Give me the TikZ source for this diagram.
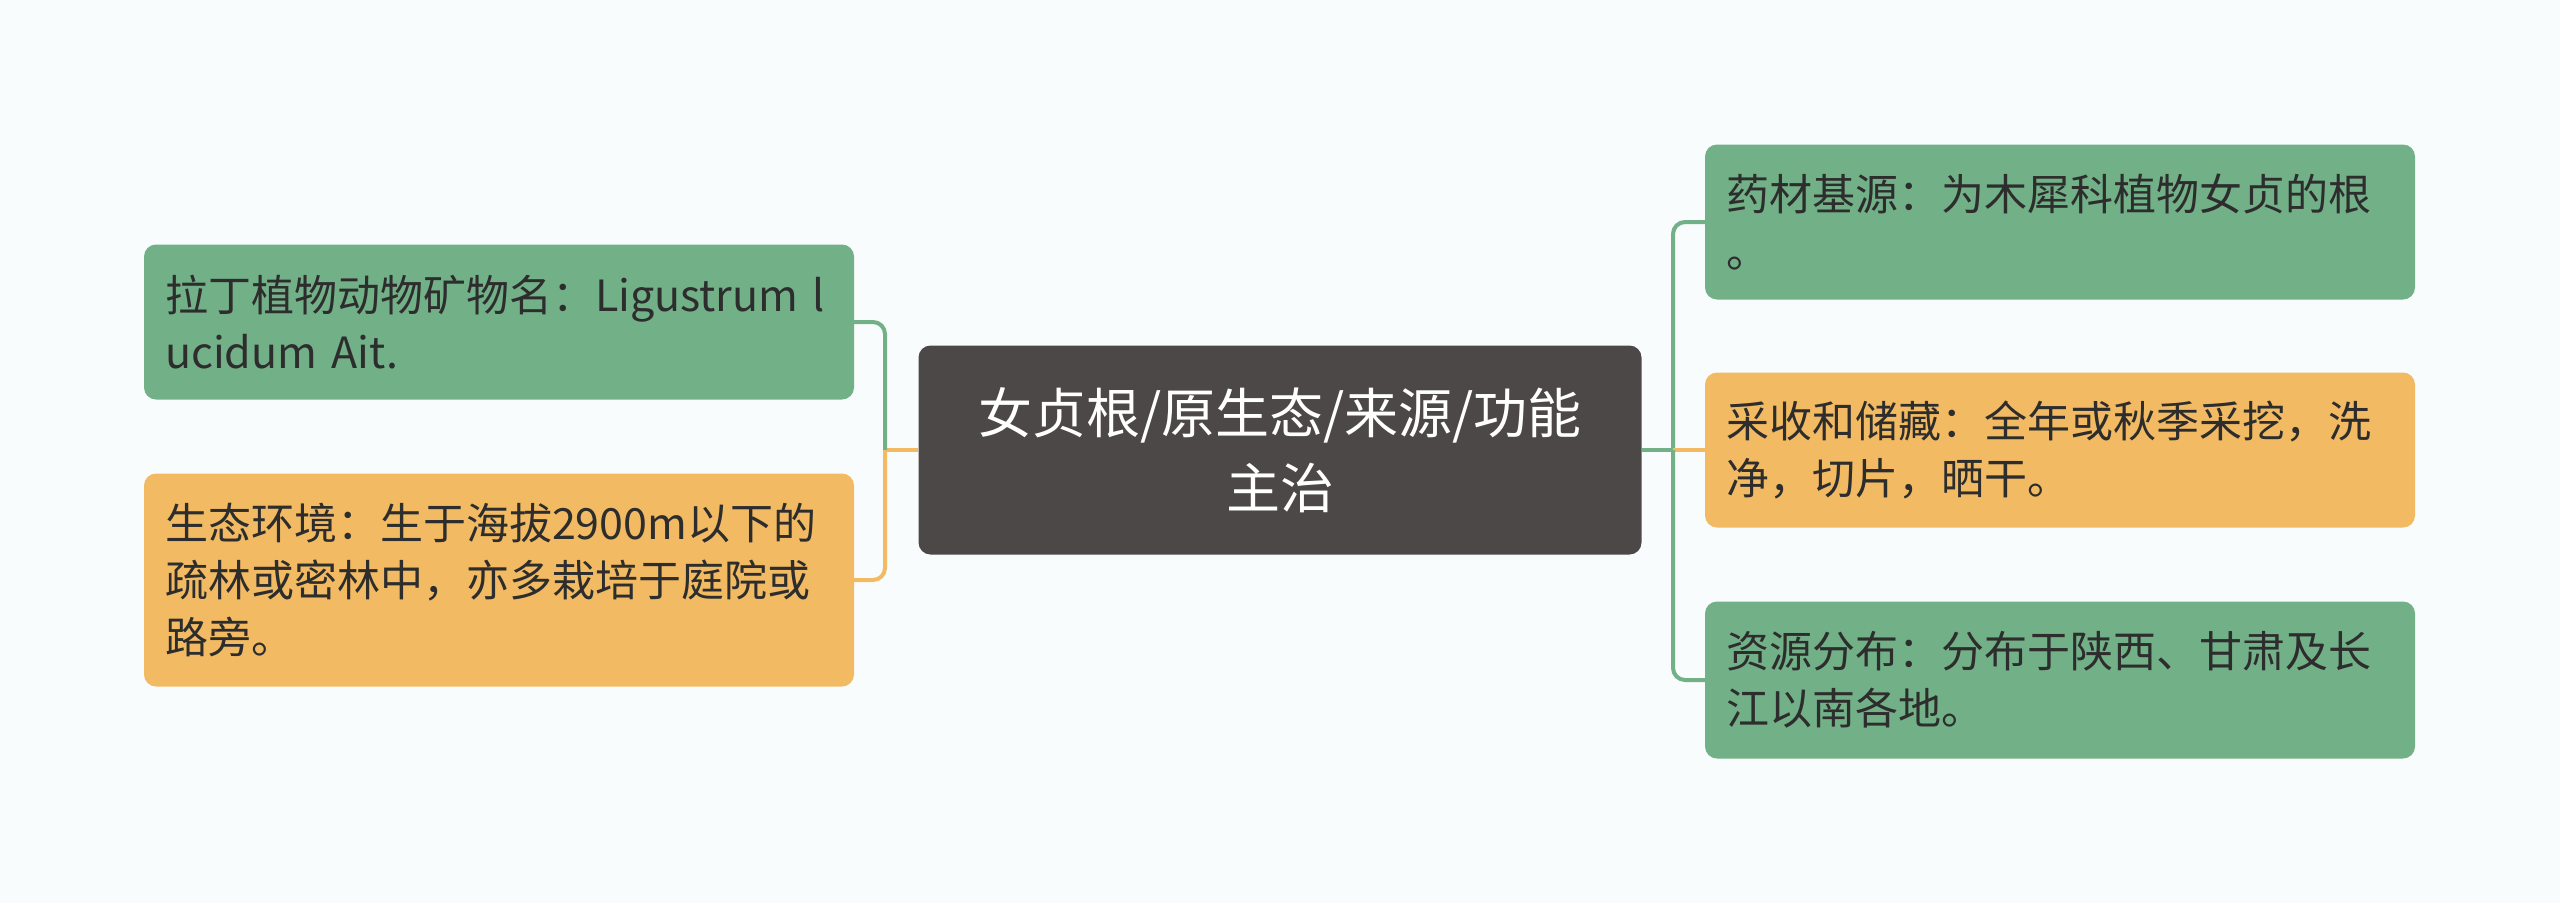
\documentclass[tikz,border=0pt]{standalone}
\usepackage{fontspec}
\setmainfont{Noto Sans CJK SC}
\usetikzlibrary{positioning}

\definecolor{leafgreen}{RGB}{114,176,135}
\definecolor{leaforange}{RGB}{242,187,99}
\definecolor{rootgray}{RGB}{77,72,72}
\definecolor{leaftext}{RGB}{45,45,45}
\definecolor{paper}{RGB}{249,252,252}

\begin{document}
\begin{tikzpicture}[x=1pt, y=-1pt,
    leaf/.style={rounded corners=12pt, minimum width=710pt, minimum height=155pt,
        text width=668pt, align=left, inner sep=0pt, text=leaftext,
        font=\fontsize{43}{57}\selectfont},
    rootbox/.style={rounded corners=12pt, fill=rootgray, minimum width=723pt,
        minimum height=209pt, text width=700pt, align=center, inner sep=0pt,
        text=white, font=\fontsize{54}{75}\selectfont},
    greenlink/.style={draw=leafgreen, line width=4pt, rounded corners=12pt},
    orangelink/.style={draw=leaforange, line width=4pt, rounded corners=12pt}]

        % Draw the background
        \fill[paper] (0,0) rectangle (2560,903);

        % Draw the central topic
        \node[rootbox] (root) at (1280,450) {女贞根/原生态/来源/功能\\主治};

        % Draw the left branches
        \node[leaf, fill=leafgreen] (latin) at (499,322) {拉丁植物动物矿物名：Ligustrum~l\\ucidum Ait.};
        \node[leaf, fill=leaforange, minimum height=213pt] (habitat) at (499,580) {生态环境：生于海拔2900m以下的\\疏林或密林中，亦多栽培于庭院或\\路旁。};

        % Draw the right branches
        \node[leaf, fill=leafgreen] (origin) at (2060,222) {药材基源：为木犀科植物女贞的根\\。};
        \node[leaf, fill=leaforange] (harvest) at (2060,450) {采收和储藏：全年或秋季采挖，洗\\净，切片，晒干。};
        \node[leaf, fill=leafgreen, minimum height=157pt] (spread) at (2060,680) {资源分布：分布于陕西、甘肃及长\\江以南各地。};

        % Junctions of the connectors
        \coordinate (lj) at (885,450);
        \coordinate (rj) at (1673,450);

        % Connect the topic to the branches
        \draw[orangelink] (root.west) -- (lj);
        \draw[greenlink] (lj) |- (latin.east);
        \draw[orangelink] (lj) |- (habitat.east);
        \draw[greenlink] (root.east) -- (rj);
        \draw[greenlink] (rj) |- (origin.west);
        \draw[orangelink] (rj) -- (harvest.west);
        \draw[greenlink] (rj) |- (spread.west);
    \end{tikzpicture}
\end{document}
